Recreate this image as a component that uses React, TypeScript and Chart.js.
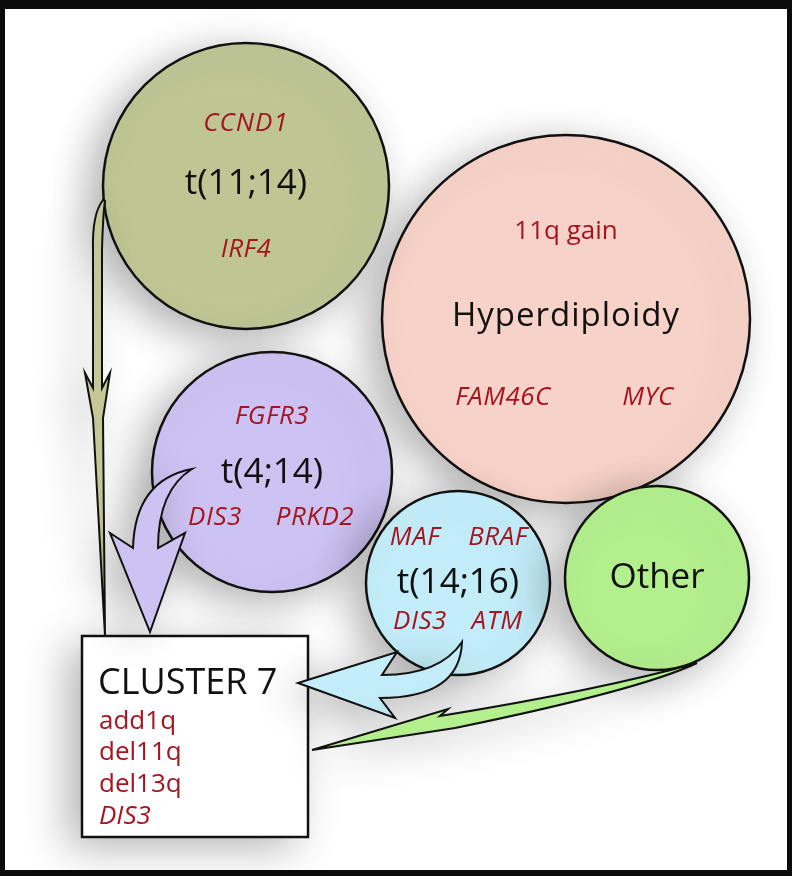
import { useEffect, useRef } from "react";
import { Chart, registerables } from "chart.js";

Chart.register(...registerables);

// ---- data ----
const clusterNames = ["Hyperdiploidy", "t(11;14)", "t(4;14)", "t(14;16)", "Other"];
const clusterX = [566, 246, 272, 458, 657];
const clusterY = [319, 186, 472, 583, 578];
const clusterRadius = [184, 143, 120, 92, 92];

const hyperdiploidyFeatures = ["11q gain", "FAM46C", "MYC"];
const t1114Features = ["CCND1", "IRF4"];
const t414Features = ["FGFR3", "DIS3", "PRKD2"];
const t1416Features = ["MAF", "BRAF", "DIS3", "ATM"];

const cluster7Title = "CLUSTER 7";
const cluster7Features = ["add1q", "del11q", "del13q", "DIS3"];

// ---- styles / layout ----
const FONT = '"Open Sans", "Noto Sans", sans-serif';
const RED = "#a5141f";
const circleFill = ["#f6d2c8", "#bfc694", "#cdc3f3", "#c3eef9", "#b3ef8d"];

type Op = [string, ...number[]];

const oliveArrow: Op[] = [
  ["M", 103, 200],
  ["Q", 92, 214, 93, 250],
  ["L", 93, 388],
  ["L", 85, 373],
  ["L", 93, 418],
  ["L", 105, 636],
  ["L", 103, 418],
  ["L", 110, 373],
  ["L", 102, 388],
  ["L", 102, 250],
  ["Q", 103, 214, 105, 201],
];
const purpleArrow: Op[] = [
  ["M", 192, 469],
  ["Q", 135, 480, 133, 548],
  ["L", 110, 533],
  ["L", 150, 632],
  ["L", 185, 533],
  ["L", 158, 548],
  ["Q", 158, 490, 192, 469],
];
const blueArrow: Op[] = [
  ["M", 298, 683],
  ["L", 397, 652],
  ["L", 382, 675],
  ["Q", 440, 675, 462, 642],
  ["Q", 460, 698, 380, 698],
  ["L", 395, 718],
  ["L", 298, 683],
];
const greenArrow: Op[] = [
  ["M", 312, 750],
  ["L", 448, 709],
  ["L", 440, 716],
  ["Q", 600, 690, 697, 663],
  ["Q", 640, 690, 455, 728],
  ["L", 312, 750],
];

type Label = { text: string; cx: number; dx: number; dy: number; size: number; italic: boolean; color: string; spacing: number };

function buildLabels(): Label[] {
  const L: Label[] = [];
  const add = (ci: number, text: string, dx: number, dy: number, size: number, italic: boolean, color: string, spacing = 0) =>
    L.push({ text, cx: ci, dx, dy, size, italic, color, spacing });
  add(0, clusterNames[0], 0, -2, 33, false, "#111", 1);
  add(0, hyperdiploidyFeatures[0], 0, -87, 26, false, RED);
  add(0, hyperdiploidyFeatures[1], -63, 79, 26, true, RED, 0.5);
  add(0, hyperdiploidyFeatures[2], 82, 79, 26, true, RED, 0.5);
  add(1, clusterNames[1], 0, -2, 35, false, "#111");
  add(1, t1114Features[0], 0, -62, 26, true, RED, 1);
  add(1, t1114Features[1], 0, 64, 26, true, RED, 0.5);
  add(2, clusterNames[2], 0, 1, 35, false, "#111");
  add(2, t414Features[0], 0, -55, 26, true, RED, 0.5);
  add(2, t414Features[1], -57, 46, 26, true, RED, 0.5);
  add(2, t414Features[2], 43, 46, 26, true, RED, 0.5);
  add(3, clusterNames[3], 0, 0, 35, false, "#111");
  add(3, t1416Features[0], -43, -45, 26, true, RED, 0.5);
  add(3, t1416Features[1], 40, -45, 26, true, RED, 0.5);
  add(3, t1416Features[2], -38, 39, 26, true, RED, 0.5);
  add(3, t1416Features[3], 39, 39, 26, true, RED, 0.5);
  add(4, clusterNames[4], 0, 0, 35, false, "#111");
  return L;
}

function tracePath(ctx: CanvasRenderingContext2D, ops: Op[], px: (v: number) => number, py: (v: number) => number) {
  ctx.beginPath();
  for (const op of ops) {
    const [c, ...n] = op;
    if (c === "M") ctx.moveTo(px(n[0]), py(n[1]));
    else if (c === "L") ctx.lineTo(px(n[0]), py(n[1]));
    else if (c === "Q") ctx.quadraticCurveTo(px(n[0]), py(n[1]), px(n[2]), py(n[3]));
  }
  ctx.closePath();
}

function setShadow(ctx: CanvasRenderingContext2D) {
  ctx.shadowColor = "rgba(0,0,0,0.3)";
  ctx.shadowBlur = 40;
  ctx.shadowOffsetX = -14;
  ctx.shadowOffsetY = 10;
}
function clearShadow(ctx: CanvasRenderingContext2D) {
  ctx.shadowColor = "rgba(0,0,0,0)";
  ctx.shadowBlur = 0;
  ctx.shadowOffsetX = 0;
  ctx.shadowOffsetY = 0;
}

const diagramPlugin = {
  id: "diagram",
  beforeDraw(chart: any) {
    const ctx: CanvasRenderingContext2D = chart.ctx;
    ctx.save();
    ctx.fillStyle = "#0b0b0b";
    ctx.fillRect(0, 0, chart.width, chart.height);
    ctx.fillStyle = "#ffffff";
    ctx.fillRect(5, 9, 782, 861);
    ctx.restore();
  },
  beforeDatasetsDraw(chart: any) {
    setShadow(chart.ctx);
  },
  afterDatasetsDraw(chart: any) {
    const ctx: CanvasRenderingContext2D = chart.ctx;
    const xs = chart.scales.x;
    const ys = chart.scales.y;
    const px = (v: number) => xs.getPixelForValue(v);
    const py = (v: number) => ys.getPixelForValue(v);
    ctx.save();
    setShadow(ctx);
    ctx.fillStyle = "#ffffff";
    ctx.fillRect(px(82), py(636), px(308) - px(82), py(837) - py(636));
    clearShadow(ctx);
    ctx.lineWidth = 2.5;
    ctx.strokeStyle = "#111";
    ctx.strokeRect(px(82), py(636), px(308) - px(82), py(837) - py(636));

    const arrows: [Op[], string][] = [
      [oliveArrow, "#c5c796"],
      [purpleArrow, circleFill[2]],
      [blueArrow, circleFill[3]],
      [greenArrow, circleFill[4]],
    ];
    for (const [ops, col] of arrows) {
      setShadow(ctx);
      tracePath(ctx, ops, px, py);
      ctx.fillStyle = col;
      ctx.fill();
      clearShadow(ctx);
      ctx.lineJoin = "miter";
      ctx.lineWidth = 2;
      ctx.strokeStyle = "#111";
      ctx.stroke();
    }

    ctx.textAlign = "center";
    ctx.textBaseline = "middle";
    for (const l of buildLabels()) {
      ctx.font = `${l.italic ? "italic " : ""}${l.size}px ${FONT}`;
      (ctx as any).letterSpacing = `${l.spacing}px`;
      ctx.fillStyle = l.color;
      ctx.fillText(l.text, px(clusterX[l.cx] + l.dx + l.spacing * l.text.length / 2 * 0), py(clusterY[l.cx] + l.dy));
    }
    (ctx as any).letterSpacing = "0px";

    ctx.textAlign = "left";
    ctx.font = `36px ${FONT}`;
    ctx.fillStyle = "#111";
    ctx.fillText(cluster7Title, px(98), py(684));
    const rows = [722, 753, 785, 817];
    cluster7Features.forEach((f, i) => {
      ctx.font = `${f === "DIS3" ? "italic " : ""}26px ${FONT}`;
      ctx.fillStyle = RED;
      ctx.fillText(f, px(99), py(rows[i]));
    });
    ctx.restore();
  },
};

export default function App() {
  const ref = useRef<HTMLCanvasElement | null>(null);
  useEffect(() => {
    document.body.style.margin = "0";
    const canvas = ref.current;
    if (!canvas) return;
    const chart = new Chart(canvas, {
      type: "bubble",
      data: {
        datasets: [
          {
            label: "clusters",
            data: clusterNames.map((_, i) => ({ x: clusterX[i], y: clusterY[i], r: clusterRadius[i] })),
            backgroundColor: circleFill,
            borderColor: "#111",
            borderWidth: 2.5,
            hoverBorderWidth: 2.5,
            clip: false as any,
          },
        ],
      },
      options: {
        responsive: false,
        animation: false,
        devicePixelRatio: 1,
        events: [],
        layout: { padding: 0, autoPadding: false },
        plugins: { legend: { display: false }, tooltip: { enabled: false } },
        scales: {
          x: { type: "linear", min: 0, max: 792, display: false },
          y: { type: "linear", min: 0, max: 876, reverse: true, display: false },
        },
      },
      plugins: [diagramPlugin],
    });
    return () => chart.destroy();
  }, []);
  return (
    <div style={{ width: 792, height: 876 }}>
      <canvas ref={ref} width={792} height={876} style={{ display: "block" }} />
    </div>
  );
}
